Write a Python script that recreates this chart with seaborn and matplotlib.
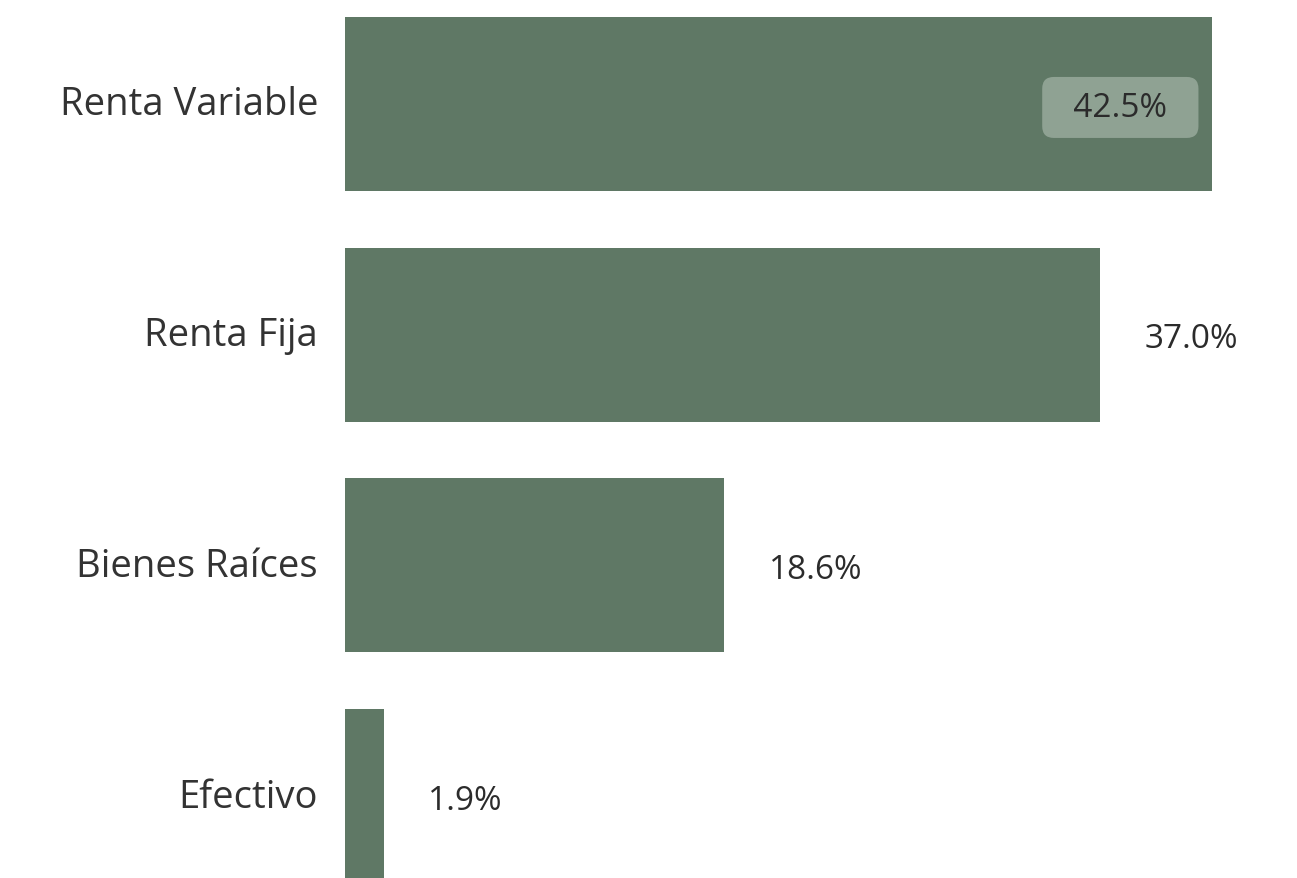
import matplotlib
matplotlib.use("Agg")
import matplotlib.pyplot as plt
import matplotlib.transforms as mtransforms
import seaborn as sns
import pandas as pd

categories = ["Renta Variable", "Renta Fija", "Bienes Raíces", "Efectivo"]
values = [42.5, 37.0, 18.6, 1.9]
value_labels = ["42.5%", "37.0%", "18.6%", "1.9%"]

sns.set_theme(style="white")
plt.rcParams['font.family'] = ['Open Sans', 'DejaVu Sans']

df = pd.DataFrame({"cat": categories, "val": values})

fig = plt.figure(figsize=(12.97, 8.79), dpi=100)
ax = fig.add_axes([345/1297, 0, 952/1297, 1])
sns.barplot(data=df, x="val", y="cat", color="#5f7865", saturation=1,
            width=0.755, ax=ax, orient="h")
for p in ax.patches:
    p.set_edgecolor("none")

ax.set_xlim(0, 952/20.4)
ax.set_ylim(3.355, -0.455)
ax.set_xlabel("")
ax.set_ylabel("")
ax.set_xticks([])
for s in ax.spines.values():
    s.set_visible(False)
ax.tick_params(axis="y", length=0, pad=18, labelsize=27.5, labelcolor="#333333")
offset = mtransforms.ScaledTranslation(-2/100, 4/100, fig.dpi_scale_trans)
for lbl in ax.get_yticklabels():
    lbl.set_transform(lbl.get_transform() + offset)

for i, (v, lab) in enumerate(zip(values, value_labels)):
    if i == 0:
        ax.annotate("  " + lab + "  ", xy=(v, i), xytext=(-66, -2.5), textcoords="offset points",
                    ha="center", va="center", fontsize=24, color="#2b2b2b",
                    bbox=dict(boxstyle="round,pad=0.42,rounding_size=0.35",
                              fc="#8fa293", ec="none"))
    else:
        ax.annotate(lab, xy=(v, i), xytext=(32, -3), textcoords="offset points",
                    ha="left", va="center", fontsize=24, color="#2b2b2b")

fig.savefig("out.png", dpi=100)
